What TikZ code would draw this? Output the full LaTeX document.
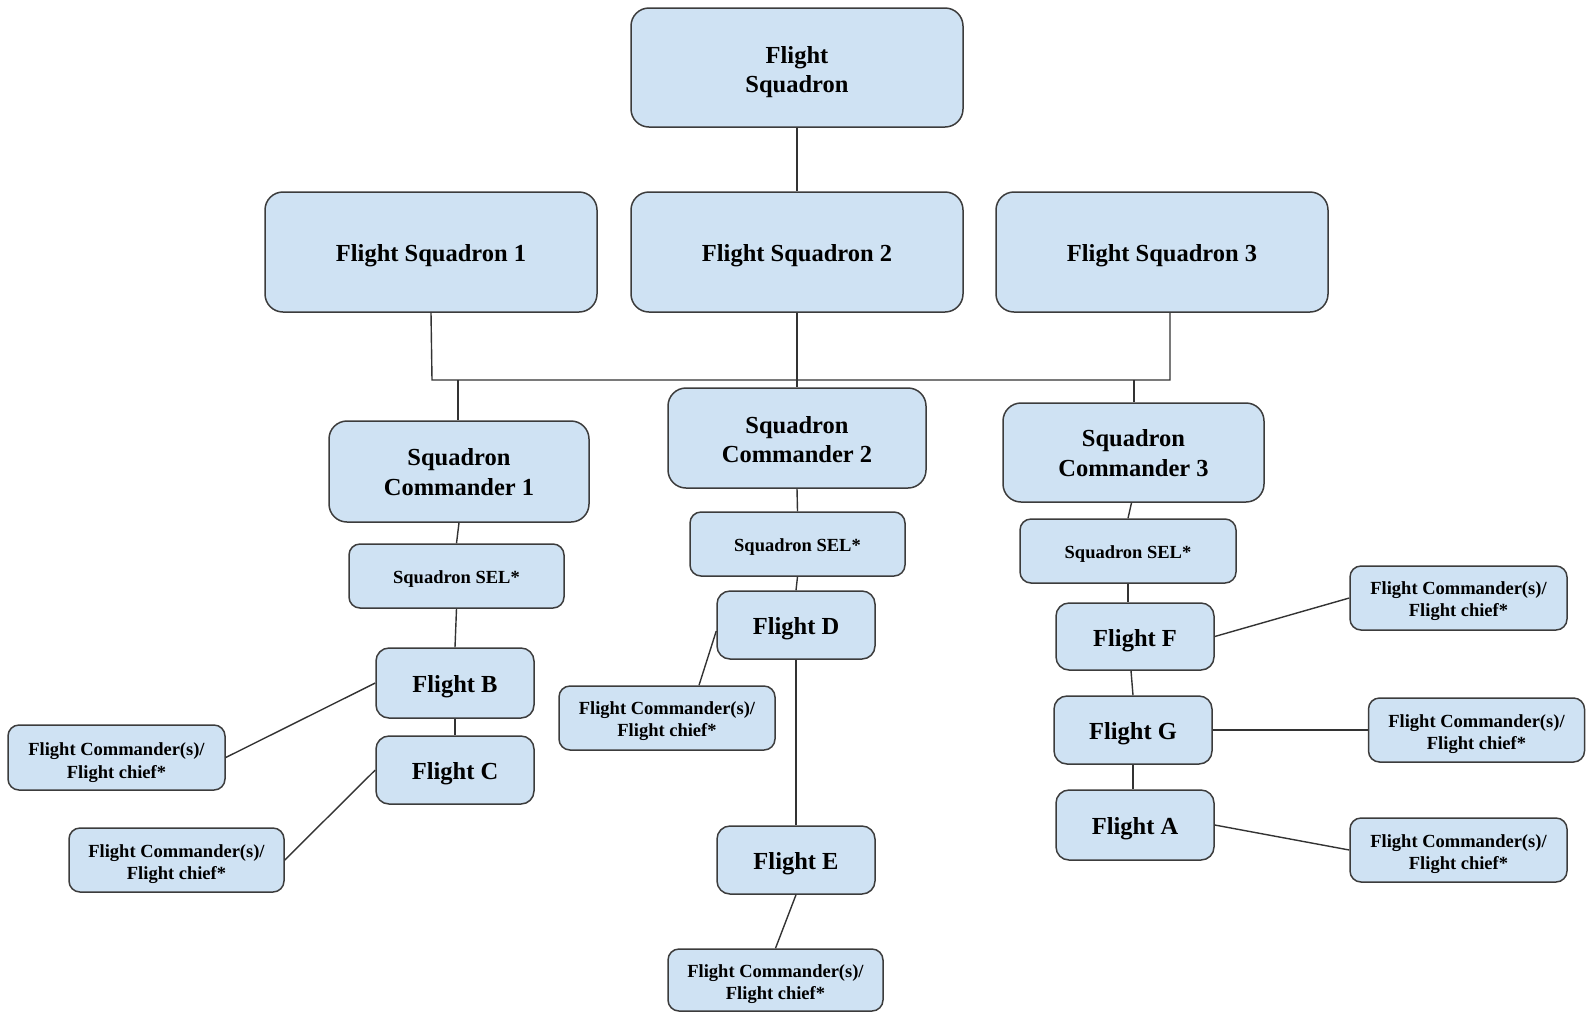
\documentclass[tikz,border=0pt]{standalone}
\usepackage{fontspec}
\setmainfont{Liberation Serif}
\definecolor{boxfill}{HTML}{CFE2F3}
\definecolor{boxline}{HTML}{3C3C3C}
\definecolor{conn}{HTML}{333333}
\newcommand{\boxtext}[2][4pt]{\raisebox{-#1}[\height][\depth]{\begin{tabular}{@{}c@{}}#2\end{tabular}}}
\tikzset{
  box/.style={draw=boxline, fill=boxfill, line width=1.5pt, rectangle, inner sep=0pt, anchor=center},
  big/.style={box, rounded corners=18pt, font=\fontsize{24.5}{29.4}\selectfont\bfseries},
  mid/.style={box, rounded corners=13pt, font=\fontsize{24.5}{29.4}\selectfont\bfseries},
  small/.style={box, rounded corners=11pt, font=\fontsize{18.5}{22.2}\selectfont\bfseries},
  link/.style={draw=conn, line width=1.4pt},
}
\begin{document}
\begin{tikzpicture}[x=1pt, y=-1pt]
\useasboundingbox (0,0) rectangle (1586,1013);
% top levels
\node[big, minimum width=332, minimum height=119] (top) at (797,67.5) {\boxtext[4.5pt]{Flight\\Squadron}};
\node[big, minimum width=332, minimum height=120] (fs1) at (431,252) {\boxtext{Flight Squadron 1}};
\node[big, minimum width=332, minimum height=120] (fs2) at (797,252) {\boxtext{Flight Squadron 2}};
\node[big, minimum width=332, minimum height=120] (fs3) at (1162,252) {\boxtext{Flight Squadron 3}};
% commanders
\node[big, minimum width=260, minimum height=101] (sc1) at (459,471.5) {\boxtext[3pt]{Squadron\\Commander 1}};
\node[big, minimum width=258, minimum height=100] (sc2) at (797,438) {\boxtext[4pt]{Squadron\\Commander 2}};
\node[big, minimum width=261, minimum height=99] (sc3) at (1133.5,452.5) {\boxtext[3pt]{Squadron\\Commander 3}};
% SEL
\node[small, minimum width=215, minimum height=64] (sel1) at (456.5,576) {\boxtext[3pt]{Squadron SEL*}};
\node[small, minimum width=215, minimum height=64] (sel2) at (797.5,544) {\boxtext[3pt]{Squadron SEL*}};
\node[small, minimum width=216, minimum height=64] (sel3) at (1128,551) {\boxtext[3pt]{Squadron SEL*}};
% flights
\node[mid, minimum width=158, minimum height=70] (fB) at (455,683) {\boxtext{Flight B}};
\node[mid, minimum width=158, minimum height=68] (fC) at (455,770) {\boxtext{Flight C}};
\node[mid, minimum width=158, minimum height=68] (fD) at (796,625) {\boxtext{Flight D}};
\node[mid, minimum width=158, minimum height=68] (fE) at (796,860) {\boxtext{Flight E}};
\node[mid, minimum width=158, minimum height=67] (fF) at (1135,636.5) {\boxtext{Flight F}};
\node[mid, minimum width=158, minimum height=68] (fG) at (1133,730) {\boxtext{Flight G}};
\node[mid, minimum width=158, minimum height=70] (fA) at (1135,825) {\boxtext{Flight A}};
% flight commanders
\node[small, minimum width=217, minimum height=65] (fcB) at (116.5,757.5) {\boxtext[5pt]{Flight Commander(s)/\\Flight chief*}};
\node[small, minimum width=215, minimum height=64] (fcC) at (176.5,860) {\boxtext{Flight Commander(s)/\\Flight chief*}};
\node[small, minimum width=216, minimum height=64] (fcD) at (667,718) {\boxtext[3pt]{Flight Commander(s)/\\Flight chief*}};
\node[small, minimum width=215, minimum height=62] (fcE) at (775.5,980) {\boxtext{Flight Commander(s)/\\Flight chief*}};
\node[small, minimum width=217, minimum height=64] (fcF) at (1458.5,598) {\boxtext[3pt]{Flight Commander(s)/\\Flight chief*}};
\node[small, minimum width=216, minimum height=64] (fcG) at (1476.5,730) {\boxtext{Flight Commander(s)/\\Flight chief*}};
\node[small, minimum width=217, minimum height=64] (fcA) at (1458.5,850) {\boxtext{Flight Commander(s)/\\Flight chief*}};
% bus coordinates
\coordinate (busL) at (432,380);
\coordinate (busR) at (1170,380);
\coordinate (drop1) at (458,380);
\coordinate (drop3) at (1134,380);
% connectors
\draw[link] (top.south) -- (fs2.north);
\draw[link] (fs1.south) -- (busL) -- (busR) -- (fs3.south -| busR);
\draw[link] (fs2.south) -- (sc2.north);
\draw[link] (drop1) -- (sc1.north -| drop1);
\draw[link] (drop3) -- (sc3.north -| drop3);
\draw[link] (sc1.south) -- (sel1.north);
\draw[link] (sel1.south) -- (fB.north);
\draw[link] (fB.south) -- (fC.north);
\draw[link] (fB.west) -- (fcB.east);
\draw[link] (fC.west) -- (fcC.east);
\draw[link] (sc2.south) -- (sel2.north);
\draw[link] (sel2.south) -- (fD.north);
\draw[link] (fD.south) -- (fE.north);
\draw[link] ([yshift=-6pt]fD.west) -- ([xshift=32pt]fcD.north);
\draw[link] (fE.south) -- (fcE.north);
\draw[link] ([xshift=-2pt]sc3.south) -- (sel3.north);
\draw[link] (sel3.south) -- ([xshift=-7pt]fF.north);
\draw[link] ([xshift=-4pt]fF.south) -- (fG.north);
\draw[link] (fG.south) -- ([xshift=-2pt]fA.north);
\draw[link] (fF.east) -- (fcF.west);
\draw[link] (fG.east) -- (fcG.west);
\draw[link] (fA.east) -- (fcA.west);
\end{tikzpicture}
\end{document}
